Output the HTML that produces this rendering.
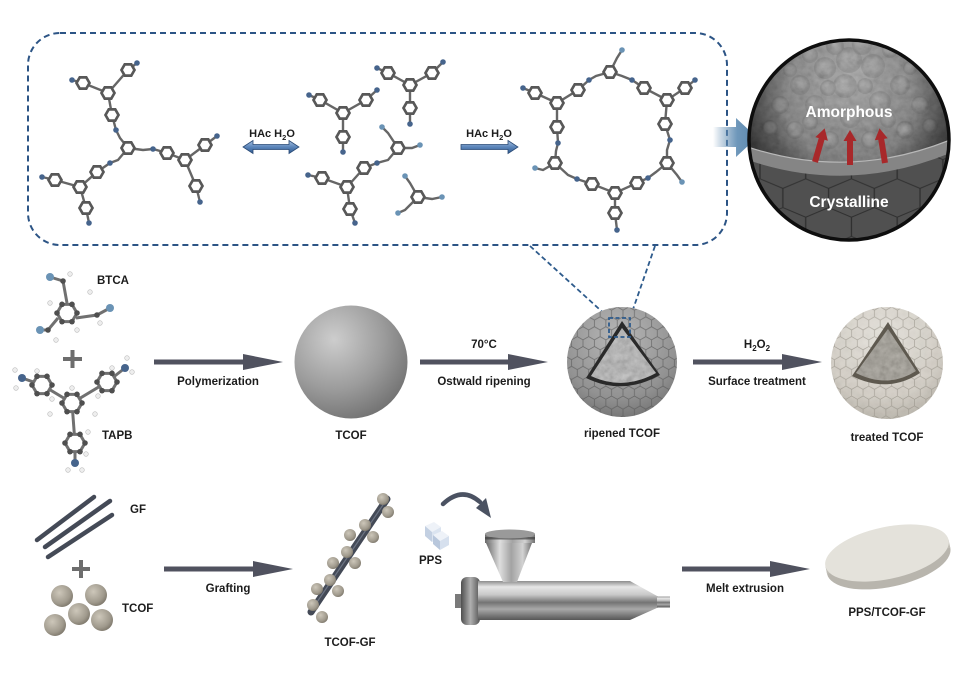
<!DOCTYPE html>
<html><head><meta charset="utf-8"><style>
html,body{margin:0;padding:0;background:#fff;}
svg{display:block;}
text{font-family:"Liberation Sans",Arial,sans-serif;font-weight:bold;fill:#1c1c1c;}
</style></head><body>
<svg width="970" height="679" viewBox="0 0 970 679" xmlns="http://www.w3.org/2000/svg">
<defs>
 <g id="rg"><polygon points="6.5,0 3.25,5.63 -3.25,5.63 -6.5,0 -3.25,-5.63 3.25,-5.63" fill="#fff" stroke="#585858" stroke-width="2.7"/></g>
 <g id="rgL"><polygon points="10,0 5,8.66 -5,8.66 -10,0 -5,-8.66 5,-8.66" fill="#fff" stroke="#707070" stroke-width="3"/>
  <circle cx="10" cy="0" r="2.8" fill="#4f4f4f"/><circle cx="5" cy="8.66" r="2.8" fill="#4f4f4f"/><circle cx="-5" cy="8.66" r="2.8" fill="#4f4f4f"/>
  <circle cx="-10" cy="0" r="2.8" fill="#4f4f4f"/><circle cx="-5" cy="-8.66" r="2.8" fill="#4f4f4f"/><circle cx="5" cy="-8.66" r="2.8" fill="#4f4f4f"/></g>
 <linearGradient id="blueArr" x1="0" y1="0" x2="0" y2="1"><stop offset="0" stop-color="#a9c3e3"/><stop offset="0.5" stop-color="#5b85ba"/><stop offset="1" stop-color="#2f5a8f"/></linearGradient>
 <linearGradient id="bigArr" x1="0" y1="0" x2="1" y2="0"><stop offset="0" stop-color="#5a86ad" stop-opacity="0"/><stop offset="0.55" stop-color="#6e97ba"/><stop offset="1" stop-color="#5a86ad"/></linearGradient>
 <radialGradient id="tcofG" cx="0.35" cy="0.3" r="0.8"><stop offset="0" stop-color="#cdcdcd"/><stop offset="0.55" stop-color="#9c9c9c"/><stop offset="1" stop-color="#6c6c6c"/></radialGradient>
 <radialGradient id="ripG" cx="0.45" cy="0.3" r="0.75"><stop offset="0" stop-color="#b8b8b8"/><stop offset="0.6" stop-color="#929292"/><stop offset="1" stop-color="#5e5e5e"/></radialGradient>
 <radialGradient id="trtG" cx="0.45" cy="0.3" r="0.75"><stop offset="0" stop-color="#e8e5de"/><stop offset="0.6" stop-color="#d4cfc6"/><stop offset="1" stop-color="#a7a297"/></radialGradient>
 <radialGradient id="ballG" cx="0.38" cy="0.35" r="0.7"><stop offset="0" stop-color="#cdc7ba"/><stop offset="0.7" stop-color="#a09a8d"/><stop offset="1" stop-color="#7c766a"/></radialGradient>
 <radialGradient id="amorG" cx="0.5" cy="0.2" r="0.75"><stop offset="0" stop-color="#a0a0a0"/><stop offset="0.5" stop-color="#6a6a6a"/><stop offset="1" stop-color="#222"/></radialGradient>
 <radialGradient id="bump" cx="0.5" cy="0.5" r="0.5" fx="0.42" fy="0.35"><stop offset="0" stop-color="#b4b4b4"/><stop offset="0.65" stop-color="#888"/><stop offset="1" stop-color="#3a3a3a" stop-opacity="0.4"/></radialGradient>
 <radialGradient id="vign" cx="0.5" cy="0.3" r="0.6"><stop offset="0.5" stop-color="#000" stop-opacity="0"/><stop offset="1" stop-color="#000" stop-opacity="0.65"/></radialGradient>
 <linearGradient id="barrelG" x1="0" y1="0" x2="0" y2="1"><stop offset="0" stop-color="#8d8d8d"/><stop offset="0.15" stop-color="#e6e6e6"/><stop offset="0.35" stop-color="#c9c9c9"/><stop offset="0.55" stop-color="#747474"/><stop offset="0.72" stop-color="#a9a9a9"/><stop offset="1" stop-color="#565656"/></linearGradient>
 <linearGradient id="hopG" x1="0" y1="0" x2="1" y2="0"><stop offset="0" stop-color="#6a6a6a"/><stop offset="0.3" stop-color="#dedede"/><stop offset="0.55" stop-color="#a3a3a3"/><stop offset="0.8" stop-color="#d2d2d2"/><stop offset="1" stop-color="#727272"/></linearGradient>
 <linearGradient id="flG" x1="0" y1="0" x2="1" y2="0"><stop offset="0" stop-color="#4e4e4e"/><stop offset="0.5" stop-color="#b0b0b0"/><stop offset="1" stop-color="#555"/></linearGradient>
 <linearGradient id="rodG" x1="0" y1="0" x2="1" y2="1"><stop offset="0" stop-color="#5a6170"/><stop offset="1" stop-color="#2e333d"/></linearGradient>
 <pattern id="hexS" width="10.392" height="18" patternUnits="userSpaceOnUse" patternTransform="scale(1.1)">
  <path d="M5.196,0 L10.392,3 L10.392,9 L5.196,12 L0,9 L0,3 Z M5.196,12 L5.196,18" fill="none" stroke="#555" stroke-width="0.7" stroke-opacity="0.7"/></pattern>
 <pattern id="hexT" width="10.392" height="18" patternUnits="userSpaceOnUse" patternTransform="scale(1.1)">
  <path d="M5.196,0 L10.392,3 L10.392,9 L5.196,12 L0,9 L0,3 Z M5.196,12 L5.196,18" fill="none" stroke="#8f8a80" stroke-width="0.6" stroke-opacity="0.7"/></pattern>
 <pattern id="hexB" width="10.392" height="18" patternUnits="userSpaceOnUse" patternTransform="translate(760,150) scale(4.4,3.2)">
  <path d="M5.196,0 L10.392,3 L10.392,9 L5.196,12 L0,9 L0,3 Z M5.196,12 L5.196,18" fill="none" stroke="#2f2f2f" stroke-width="0.3"/></pattern>
 <filter id="nz" x="0" y="0" width="100%" height="100%">
  <feTurbulence type="fractalNoise" baseFrequency="0.15" numOctaves="3" seed="4"/>
  <feColorMatrix type="matrix" values="0.33 0.33 0.33 0 0 0.33 0.33 0.33 0 0 0.33 0.33 0.33 0 0 0 0 0 0 1"/>
 </filter>
 <clipPath id="bigc"><circle cx="849" cy="140" r="100"/></clipPath>
 <clipPath id="ripc"><circle cx="622" cy="362" r="55"/></clipPath>
 <clipPath id="trtc"><circle cx="887" cy="363" r="56"/></clipPath>
 <clipPath id="wedgeR"><path d="M622,328 L591,376 Q623,391 656,373 Z"/></clipPath>
 <clipPath id="wedgeT"><path d="M888,329 L856,373 Q888,389 916,371 Z"/></clipPath>
</defs>

<!-- dashed box -->
<rect x="28" y="33" width="699" height="212" rx="32" ry="32" fill="none" stroke="#2c5485" stroke-width="2" stroke-dasharray="6 4"/>

<!-- molecule 1 -->
<g fill="none" stroke="#666" stroke-width="2.4">
 <polyline points="128,148 120,138 116,130 112,115 108,93 83,83 72,80"/>
 <polyline points="108,93 128,70 137,63"/>
 <polyline points="128,148 143,150 153,149 167,153 185,160 205,145 217,136"/>
 <polyline points="185,160 196,186 200,202"/>
 <polyline points="128,148 118,160 110,163 97,172 80,187 55,180 42,177"/>
 <polyline points="80,187 86,208 89,223"/>
</g>
<g>
 <use href="#rg" x="128" y="148"/><use href="#rg" x="112" y="115"/><use href="#rg" x="108" y="93"/><use href="#rg" x="83" y="83"/>
 <use href="#rg" x="128" y="70"/><use href="#rg" x="167" y="153"/><use href="#rg" x="185" y="160"/><use href="#rg" x="205" y="145"/>
 <use href="#rg" x="196" y="186"/><use href="#rg" x="97" y="172"/><use href="#rg" x="80" y="187"/><use href="#rg" x="55" y="180"/><use href="#rg" x="86" y="208"/>
</g>
<g fill="#46648c">
 <circle cx="116" cy="130" r="2.8"/><circle cx="72" cy="80" r="2.8"/><circle cx="137" cy="63" r="2.8"/><circle cx="153" cy="149" r="2.8"/>
 <circle cx="217" cy="136" r="2.8"/><circle cx="200" cy="202" r="2.8"/><circle cx="110" cy="163" r="2.8"/><circle cx="42" cy="177" r="2.8"/><circle cx="89" cy="223" r="2.8"/>
</g>

<!-- molecule 2 group -->
<g fill="none" stroke="#666" stroke-width="2.4">
 <polyline points="309,95 320,100 343,113 366,100 377,90"/><polyline points="343,113 343,137 343,152"/>
 <polyline points="377,68 388,73 410,85 432,73 443,62"/><polyline points="410,85 410,108 410,124"/>
 <polyline points="382,127 388,133 398,148 412,148 420,145"/>
 <polyline points="398,148 388,160 377,163 364,168 347,187 322,178 308,175"/><polyline points="347,187 350,209 355,223"/>
 <polyline points="405,176 410,183 418,197 432,199 442,197"/><polyline points="418,197 405,210 398,213"/>
</g>
<g>
 <use href="#rg" x="343" y="113"/><use href="#rg" x="320" y="100"/><use href="#rg" x="366" y="100"/><use href="#rg" x="343" y="137"/>
 <use href="#rg" x="410" y="85"/><use href="#rg" x="388" y="73"/><use href="#rg" x="432" y="73"/><use href="#rg" x="410" y="108"/>
 <use href="#rg" x="398" y="148"/><use href="#rg" x="364" y="168"/><use href="#rg" x="347" y="187"/><use href="#rg" x="322" y="178"/><use href="#rg" x="350" y="209"/>
 <use href="#rg" x="418" y="197"/>
</g>
<g fill="#46648c">
 <circle cx="309" cy="95" r="2.8"/><circle cx="377" cy="90" r="2.8"/><circle cx="343" cy="152" r="2.8"/><circle cx="377" cy="68" r="2.8"/>
 <circle cx="443" cy="62" r="2.8"/><circle cx="410" cy="124" r="2.8"/><circle cx="377" cy="163" r="2.8"/><circle cx="308" cy="175" r="2.8"/><circle cx="355" cy="223" r="2.8"/>
</g>
<g fill="#6a93b5">
 <circle cx="382" cy="127" r="2.8"/><circle cx="420" cy="145" r="2.8"/><circle cx="405" cy="176" r="2.8"/><circle cx="442" cy="197" r="2.8"/><circle cx="398" cy="213" r="2.8"/>
</g>

<!-- molecule 3 macrocycle -->
<g fill="none" stroke="#666" stroke-width="2.4">
 <polyline points="622,50 617,58 610,72 596,76 589,80 578,90 557,103 535,93 523,88"/>
 <polyline points="557,103 557,127 558,143 556,151 555,163 543,170 535,168"/>
 <polyline points="555,163 568,175 577,179 592,184 615,193 637,183 648,178 656,172 667,163 677,175 682,182"/>
 <polyline points="615,193 615,213 617,230"/>
 <polyline points="667,163 667,150 670,140 665,124 667,100 685,88 695,80"/>
 <polyline points="667,100 644,88 632,80 622,76 610,72"/>
</g>
<g>
 <use href="#rg" x="610" y="72"/><use href="#rg" x="578" y="90"/><use href="#rg" x="557" y="103"/><use href="#rg" x="535" y="93"/>
 <use href="#rg" x="557" y="127"/><use href="#rg" x="555" y="163"/><use href="#rg" x="592" y="184"/><use href="#rg" x="615" y="193"/>
 <use href="#rg" x="637" y="183"/><use href="#rg" x="615" y="213"/><use href="#rg" x="667" y="163"/><use href="#rg" x="665" y="124"/>
 <use href="#rg" x="667" y="100"/><use href="#rg" x="685" y="88"/><use href="#rg" x="644" y="88"/>
</g>
<g fill="#46648c">
 <circle cx="589" cy="80" r="2.8"/><circle cx="523" cy="88" r="2.8"/><circle cx="558" cy="143" r="2.8"/><circle cx="577" cy="179" r="2.8"/>
 <circle cx="648" cy="178" r="2.8"/><circle cx="617" cy="230" r="2.8"/><circle cx="670" cy="140" r="2.8"/><circle cx="695" cy="80" r="2.8"/><circle cx="632" cy="80" r="2.8"/>
</g>
<g fill="#6a93b5"><circle cx="622" cy="50" r="2.8"/><circle cx="535" cy="168" r="2.8"/><circle cx="682" cy="182" r="2.8"/></g>

<!-- blue arrows in box -->
<polygon points="243,147 253,140.5 253,144.5 289,144.5 289,140.5 299,147 289,153.5 289,149.5 253,149.5 253,153.5" fill="url(#blueArr)" stroke="#2a4a75" stroke-width="0.8"/>
<polygon points="461,144.5 508,144.5 508,140.5 518,147 508,153.5 508,149.5 461,149.5" fill="url(#blueArr)" stroke="#2a4a75" stroke-width="0.8"/>
<text x="272" y="137" font-size="11" text-anchor="middle">HAc H<tspan font-size="7.5" dy="3">2</tspan><tspan dy="-3">O</tspan></text>
<text x="489" y="137" font-size="11" text-anchor="middle">HAc H<tspan font-size="7.5" dy="3">2</tspan><tspan dy="-3">O</tspan></text>

<!-- big blue arrow -->
<polygon points="713,127 736,127 736,118 757,137.5 736,157 736,147 713,147" fill="url(#bigArr)"/>

<!-- big sphere -->
<g clip-path="url(#bigc)">
 <rect x="745" y="36" width="210" height="210" fill="url(#amorG)"/>
 <g fill="url(#bump)" opacity="0.45">
  <circle cx="849" cy="60" r="13"/><circle cx="825" cy="68" r="11"/><circle cx="873" cy="66" r="12"/><circle cx="800" cy="85" r="10"/>
  <circle cx="900" cy="85" r="10"/><circle cx="845" cy="86" r="12"/><circle cx="780" cy="105" r="9"/><circle cx="920" cy="105" r="9"/>
  <circle cx="815" cy="105" r="10"/><circle cx="880" cy="102" r="11"/><circle cx="850" cy="118" r="10"/><circle cx="795" cy="130" r="9"/>
  <circle cx="905" cy="130" r="9"/><circle cx="830" cy="140" r="9"/><circle cx="870" cy="140" r="9"/><circle cx="770" cy="128" r="8"/>
  <circle cx="930" cy="126" r="8"/><circle cx="862" cy="45" r="10"/><circle cx="835" cy="46" r="9"/><circle cx="810" cy="55" r="8"/><circle cx="890" cy="50" r="8"/>
  <circle cx="828" cy="88" r="8"/><circle cx="865" cy="86" r="8"/><circle cx="810" cy="122" r="8"/><circle cx="888" cy="120" r="8"/><circle cx="790" cy="70" r="7"/><circle cx="910" cy="68" r="7"/>
 </g>
 <rect x="745" y="36" width="210" height="140" filter="url(#nz)" opacity="0.28"/>
 <rect x="745" y="36" width="210" height="210" fill="url(#vign)"/>
 <path d="M745,146 Q850,182 955,138 L955,250 L745,250 Z" fill="#505050"/>
 <path d="M745,146 Q850,182 955,138 L955,250 L745,250 Z" fill="url(#hexB)"/>
 <path d="M745,146 Q850,182 955,138 L955,151 Q850,196 745,159 Z" fill="#858585"/>
 <path d="M745,146 Q850,182 955,138" fill="none" stroke="#b8b8b8" stroke-width="1.2"/>
</g>
<circle cx="849" cy="140" r="100" fill="none" stroke="#0e0e0e" stroke-width="3.5"/>
<g fill="#a8282a">
 <g transform="translate(815,162) rotate(16)"><polygon points="-3,0 3,0 3,-24 6.5,-24 0,-35 -6.5,-24 -3,-24"/></g>
 <g transform="translate(850,165) rotate(0)"><polygon points="-3,0 3,0 3,-24 6.5,-24 0,-35 -6.5,-24 -3,-24"/></g>
 <g transform="translate(885,163) rotate(-9)"><polygon points="-3,0 3,0 3,-24 6.5,-24 0,-35 -6.5,-24 -3,-24"/></g>
</g>
<text x="849" y="117" font-size="15.5" text-anchor="middle" style="fill:#fff">Amorphous</text>
<text x="849" y="207" font-size="15.5" text-anchor="middle" style="fill:#fff">Crystalline</text>

<!-- dashed connectors -->
<g fill="none" stroke="#2e5b8c" stroke-width="1.8" stroke-dasharray="5 3">
 <line x1="530" y1="246" x2="609" y2="318"/><line x1="655" y1="246" x2="630" y2="318"/>
</g>

<!-- BTCA -->
<g fill="none" stroke="#707070" stroke-width="3">
 <polyline points="50,277 63,281 67,303"/><polyline points="76,318 97,315 110,308"/><polyline points="58,318 48,330 40,330"/>
</g>
<use href="#rgL" x="67" y="313"/>
<g fill="#4f4f4f"><circle cx="63" cy="281" r="2.8"/><circle cx="97" cy="315" r="2.8"/><circle cx="48" cy="330" r="2.8"/></g>
<g fill="#6a93b5"><circle cx="50" cy="277" r="4"/><circle cx="110" cy="308" r="4"/><circle cx="40" cy="330" r="4"/></g>
<g fill="#eee" stroke="#bbb" stroke-width="0.6"><circle cx="70" cy="274" r="2.3"/><circle cx="90" cy="292" r="2.3"/><circle cx="50" cy="303" r="2.3"/><circle cx="77" cy="330" r="2.3"/><circle cx="100" cy="323" r="2.3"/><circle cx="56" cy="340" r="2.3"/></g>
<text x="97" y="284" font-size="11.5">BTCA</text>
<rect x="63" y="357" width="19" height="4" fill="#6d6d6d"/><rect x="70.5" y="350" width="4" height="18" fill="#6d6d6d"/>

<!-- TAPB -->
<g fill="none" stroke="#707070" stroke-width="3">
 <polyline points="22,378 42,385 72,403 107,382 125,368"/><polyline points="72,403 75,443 75,463"/>
</g>
<use href="#rgL" x="72" y="403"/><use href="#rgL" x="42" y="385"/><use href="#rgL" x="107" y="382"/><use href="#rgL" x="75" y="443"/>
<g fill="#46648c"><circle cx="22" cy="378" r="4"/><circle cx="125" cy="368" r="4"/><circle cx="75" cy="463" r="4"/></g>
<g fill="#eee" stroke="#bbb" stroke-width="0.6">
 <circle cx="15" cy="370" r="2.3"/><circle cx="16" cy="388" r="2.3"/><circle cx="127" cy="358" r="2.3"/><circle cx="132" cy="372" r="2.3"/>
 <circle cx="68" cy="470" r="2.3"/><circle cx="82" cy="470" r="2.3"/><circle cx="72" cy="388" r="2.3"/><circle cx="95" cy="414" r="2.3"/><circle cx="50" cy="414" r="2.3"/>
 <circle cx="37" cy="371" r="2.3"/><circle cx="52" cy="399" r="2.3"/><circle cx="112" cy="368" r="2.3"/><circle cx="98" cy="396" r="2.3"/><circle cx="88" cy="432" r="2.3"/><circle cx="86" cy="454" r="2.3"/>
</g>
<text x="102" y="439" font-size="11.5">TAPB</text>

<!-- arrows -->
<g fill="#50525f">
 <polygon points="154,359.5 243,359.5 243,354 283,362 243,370 243,364.5 154,364.5"/>
 <polygon points="420,359.5 508,359.5 508,354 548,362 508,370 508,364.5 420,364.5"/>
 <polygon points="693,359.5 782,359.5 782,354 822,362 782,370 782,364.5 693,364.5"/>
 <polygon points="164,566.5 253,566.5 253,561 293,569 253,577 253,571.5 164,571.5"/>
 <polygon points="682,566.5 770,566.5 770,561 810,569 770,577 770,571.5 682,571.5"/>
</g>
<text x="218" y="385" font-size="11.5" text-anchor="middle">Polymerization</text>
<text x="484" y="348" font-size="11.5" text-anchor="middle">70°C</text>
<text x="484" y="385" font-size="11.5" text-anchor="middle">Ostwald ripening</text>
<text x="757" y="348" font-size="11.5" text-anchor="middle">H<tspan font-size="8" dy="3">2</tspan><tspan dy="-3">O</tspan><tspan font-size="8" dy="3">2</tspan></text>
<text x="757" y="385" font-size="11.5" text-anchor="middle">Surface treatment</text>

<!-- TCOF sphere -->
<circle cx="351" cy="362" r="56.5" fill="url(#tcofG)"/>
<text x="351" y="439" font-size="11.5" text-anchor="middle">TCOF</text>

<!-- ripened TCOF -->
<g clip-path="url(#ripc)">
 <rect x="560" y="300" width="130" height="130" fill="url(#ripG)"/>
 <rect x="560" y="300" width="130" height="130" fill="url(#hexS)"/>
</g>
<path d="M622,321 L586,378 Q623,396 660,375 Z" fill="#2a2a2a"/>
<g clip-path="url(#wedgeR)">
 <rect x="585" y="325" width="80" height="70" fill="#ababab"/>
 <rect x="585" y="325" width="80" height="70" filter="url(#nz)" opacity="0.5"/>
</g>
<rect x="609" y="318" width="21" height="19" fill="none" stroke="#2e5b8c" stroke-width="1.8" stroke-dasharray="4 2.5"/>
<text x="622" y="437" font-size="11.5" text-anchor="middle">ripened TCOF</text>

<!-- treated TCOF -->
<g clip-path="url(#trtc)">
 <rect x="825" y="300" width="130" height="130" fill="url(#trtG)"/>
 <rect x="825" y="300" width="130" height="130" filter="url(#nz)" opacity="0.1"/>
 <rect x="825" y="300" width="130" height="130" fill="url(#hexT)"/>
</g>
<path d="M888,322 L852,376 Q888,394 920,373 Z" fill="#5e594f"/>
<g clip-path="url(#wedgeT)">
 <rect x="850" y="325" width="80" height="70" fill="#8f897d"/>
 <rect x="850" y="325" width="80" height="70" filter="url(#nz)" opacity="0.45"/>
</g>
<text x="887" y="441" font-size="11.5" text-anchor="middle">treated TCOF</text>

<!-- GF rods -->
<g stroke="url(#rodG)" stroke-width="4.5" stroke-linecap="round">
 <line x1="37" y1="540" x2="94" y2="497"/><line x1="45" y1="547" x2="110" y2="501"/><line x1="48" y1="557" x2="112" y2="515"/>
</g>
<text x="130" y="513" font-size="11.5">GF</text>
<rect x="72" y="567" width="18" height="4" fill="#6d6d6d"/><rect x="79" y="560" width="4" height="18" fill="#6d6d6d"/>
<g fill="url(#ballG)">
 <circle cx="62" cy="596" r="11"/><circle cx="96" cy="595" r="11"/><circle cx="79" cy="614" r="11"/><circle cx="55" cy="625" r="11"/><circle cx="102" cy="620" r="11"/>
</g>
<text x="122" y="612" font-size="11.5">TCOF</text>
<text x="228" y="592" font-size="11.5" text-anchor="middle">Grafting</text>

<!-- TCOF-GF -->
<line x1="311" y1="612" x2="387" y2="499" stroke="url(#rodG)" stroke-width="7" stroke-linecap="round"/>
<line x1="313" y1="608" x2="387" y2="499" stroke="#6c7484" stroke-width="1.2"/>
<g fill="url(#ballG)">
 <circle cx="383" cy="499" r="6"/><circle cx="388" cy="512" r="6"/><circle cx="365" cy="525" r="6"/><circle cx="350" cy="535" r="6"/>
 <circle cx="373" cy="537" r="6"/><circle cx="347" cy="552" r="6"/><circle cx="333" cy="563" r="6"/><circle cx="355" cy="563" r="6"/>
 <circle cx="330" cy="580" r="6"/><circle cx="317" cy="589" r="6"/><circle cx="338" cy="591" r="6"/><circle cx="313" cy="605" r="6"/><circle cx="322" cy="617" r="6"/>
</g>
<text x="350" y="646" font-size="11.5" text-anchor="middle">TCOF-GF</text>

<!-- PPS cubes -->
<g>
 <polygon points="425,526 434,522 441,527 432,532" fill="#eef2f8"/>
 <polygon points="425,526 432,532 432,542 425,536" fill="#c3d0e2"/>
 <polygon points="432,532 441,527 441,537 432,542" fill="#dbe4f0"/>
 <polygon points="433,535 442,531 449,536 440,541" fill="#eef2f8"/>
 <polygon points="433,535 440,541 440,550 433,544" fill="#b8c7dc"/>
 <polygon points="440,541 449,536 449,545 440,550" fill="#d6e0ee"/>
</g>
<text x="419" y="564" font-size="11.5">PPS</text>

<!-- curved arrow -->
<path d="M443,504 Q462,486 480,502" fill="none" stroke="#4b5262" stroke-width="4.5" stroke-linecap="round"/>
<polygon points="476,508 486,498 491,518" fill="#4b5262"/>

<!-- extruder -->
<rect x="455" y="594" width="9" height="14" fill="#7a7a7a"/>
<rect x="461" y="577" width="19" height="48" rx="6" fill="url(#flG)"/>
<rect x="478" y="581" width="152" height="39" fill="url(#barrelG)"/>
<polygon points="630,581 658,596.5 658,607.5 630,620" fill="url(#barrelG)"/>
<rect x="657" y="596.5" width="13" height="11" fill="url(#barrelG)"/>
<polygon points="486,543 532,543 517,582 503,582" fill="url(#hopG)"/>
<rect x="485" y="534" width="50" height="9" fill="url(#hopG)"/>
<rect x="485" y="537" width="50" height="2.5" fill="#3e3e3e" opacity="0.7"/>
<ellipse cx="510" cy="534" rx="25" ry="4.5" fill="#9a9a9a"/>

<text x="745" y="592" font-size="11.5" text-anchor="middle">Melt extrusion</text>

<!-- disk -->
<g transform="rotate(-12 887 553)">
 <ellipse cx="887" cy="561" rx="63" ry="26" fill="#b8b5ad"/>
 <rect x="824" y="553" width="126" height="8" fill="#c2bfb7"/>
 <ellipse cx="887" cy="553" rx="63" ry="26" fill="#e4e2db"/>
</g>
<text x="887" y="616" font-size="11.5" text-anchor="middle">PPS/TCOF-GF</text>
</svg>
</body></html>
